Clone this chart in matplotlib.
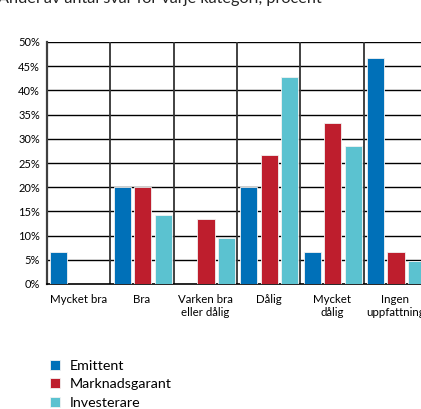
import matplotlib.pyplot as plt
import numpy as np

plt.rcParams['font.family'] = ['Lato', 'DejaVu Sans']

categories = ['Mycket bra', 'Bra', 'Varken bra\neller dålig', 'Dålig', 'Mycket\ndålig', 'Ingen\nuppfattning']
emittent = [6.67, 20.0, 0.0, 20.0, 6.67, 46.67]
marknadsgarant = [0.0, 20.0, 13.33, 26.67, 33.33, 6.67]
investerare = [0.0, 14.29, 9.52, 42.86, 28.57, 4.76]
series = ['Emittent', 'Marknadsgarant', 'Investerare']
colors = ['#0070b8', '#be1e2d', '#5bc2d0']
yticks = [0, 5, 10, 15, 20, 25, 30, 35, 40, 45, 50]

fig = plt.figure(figsize=(4.21, 4.09), dpi=100)
ax = fig.add_axes([47 / 421, 125 / 409, 380 / 421, 242 / 409])

x = np.arange(len(categories))
w = 0.27
step = 0.325
for i, (vals, col, name) in enumerate(zip([emittent, marknadsgarant, investerare], colors, series)):
    ax.bar(x - 0.5 + 0.05 + w / 2 + i * step, vals, width=w, color=col,
           edgecolor='#f2f2f2', linewidth=0.6, label=name, zorder=3)

ax.set_xlim(-0.5, len(categories) - 0.5)
ax.set_ylim(0, 50)
ax.set_yticks(yticks)
ax.set_yticklabels([f'{t}%' for t in yticks], fontsize=8)
ax.set_xticks(x)
ax.set_xticklabels(categories, fontsize=8.3, linespacing=1.15)
ax.tick_params(length=0, pad=5)
ax.tick_params(axis='x', pad=7.5)

# horizontal grid plus separators between categories
for t in yticks[1:]:
    ax.axhline(t, color='black', lw=1.0, zorder=1)
for s in np.arange(0.5, len(categories), 1.0):
    ax.axvline(s, color='#333333', lw=1.3, zorder=1)

for side in ['top', 'right']:
    ax.spines[side].set_visible(False)
ax.spines['left'].set_color('#404040')
ax.spines['left'].set_linewidth(1.6)
ax.spines['bottom'].set_color('black')
ax.spines['bottom'].set_linewidth(1.2)

fig.text(-0.005, 1.003, 'Andel av antal svar för varje kategori, procent', fontsize=11.7,
         va='center', ha='left', color='#222222')

fig.legend(loc='upper left', bbox_to_anchor=(44 / 421, 1 - 354 / 409), frameon=False,
           fontsize=10.3, handlelength=0.7, handleheight=0.7, handletextpad=0.7,
           labelspacing=0.45, borderaxespad=0)

fig.savefig('out.png', dpi=100)
